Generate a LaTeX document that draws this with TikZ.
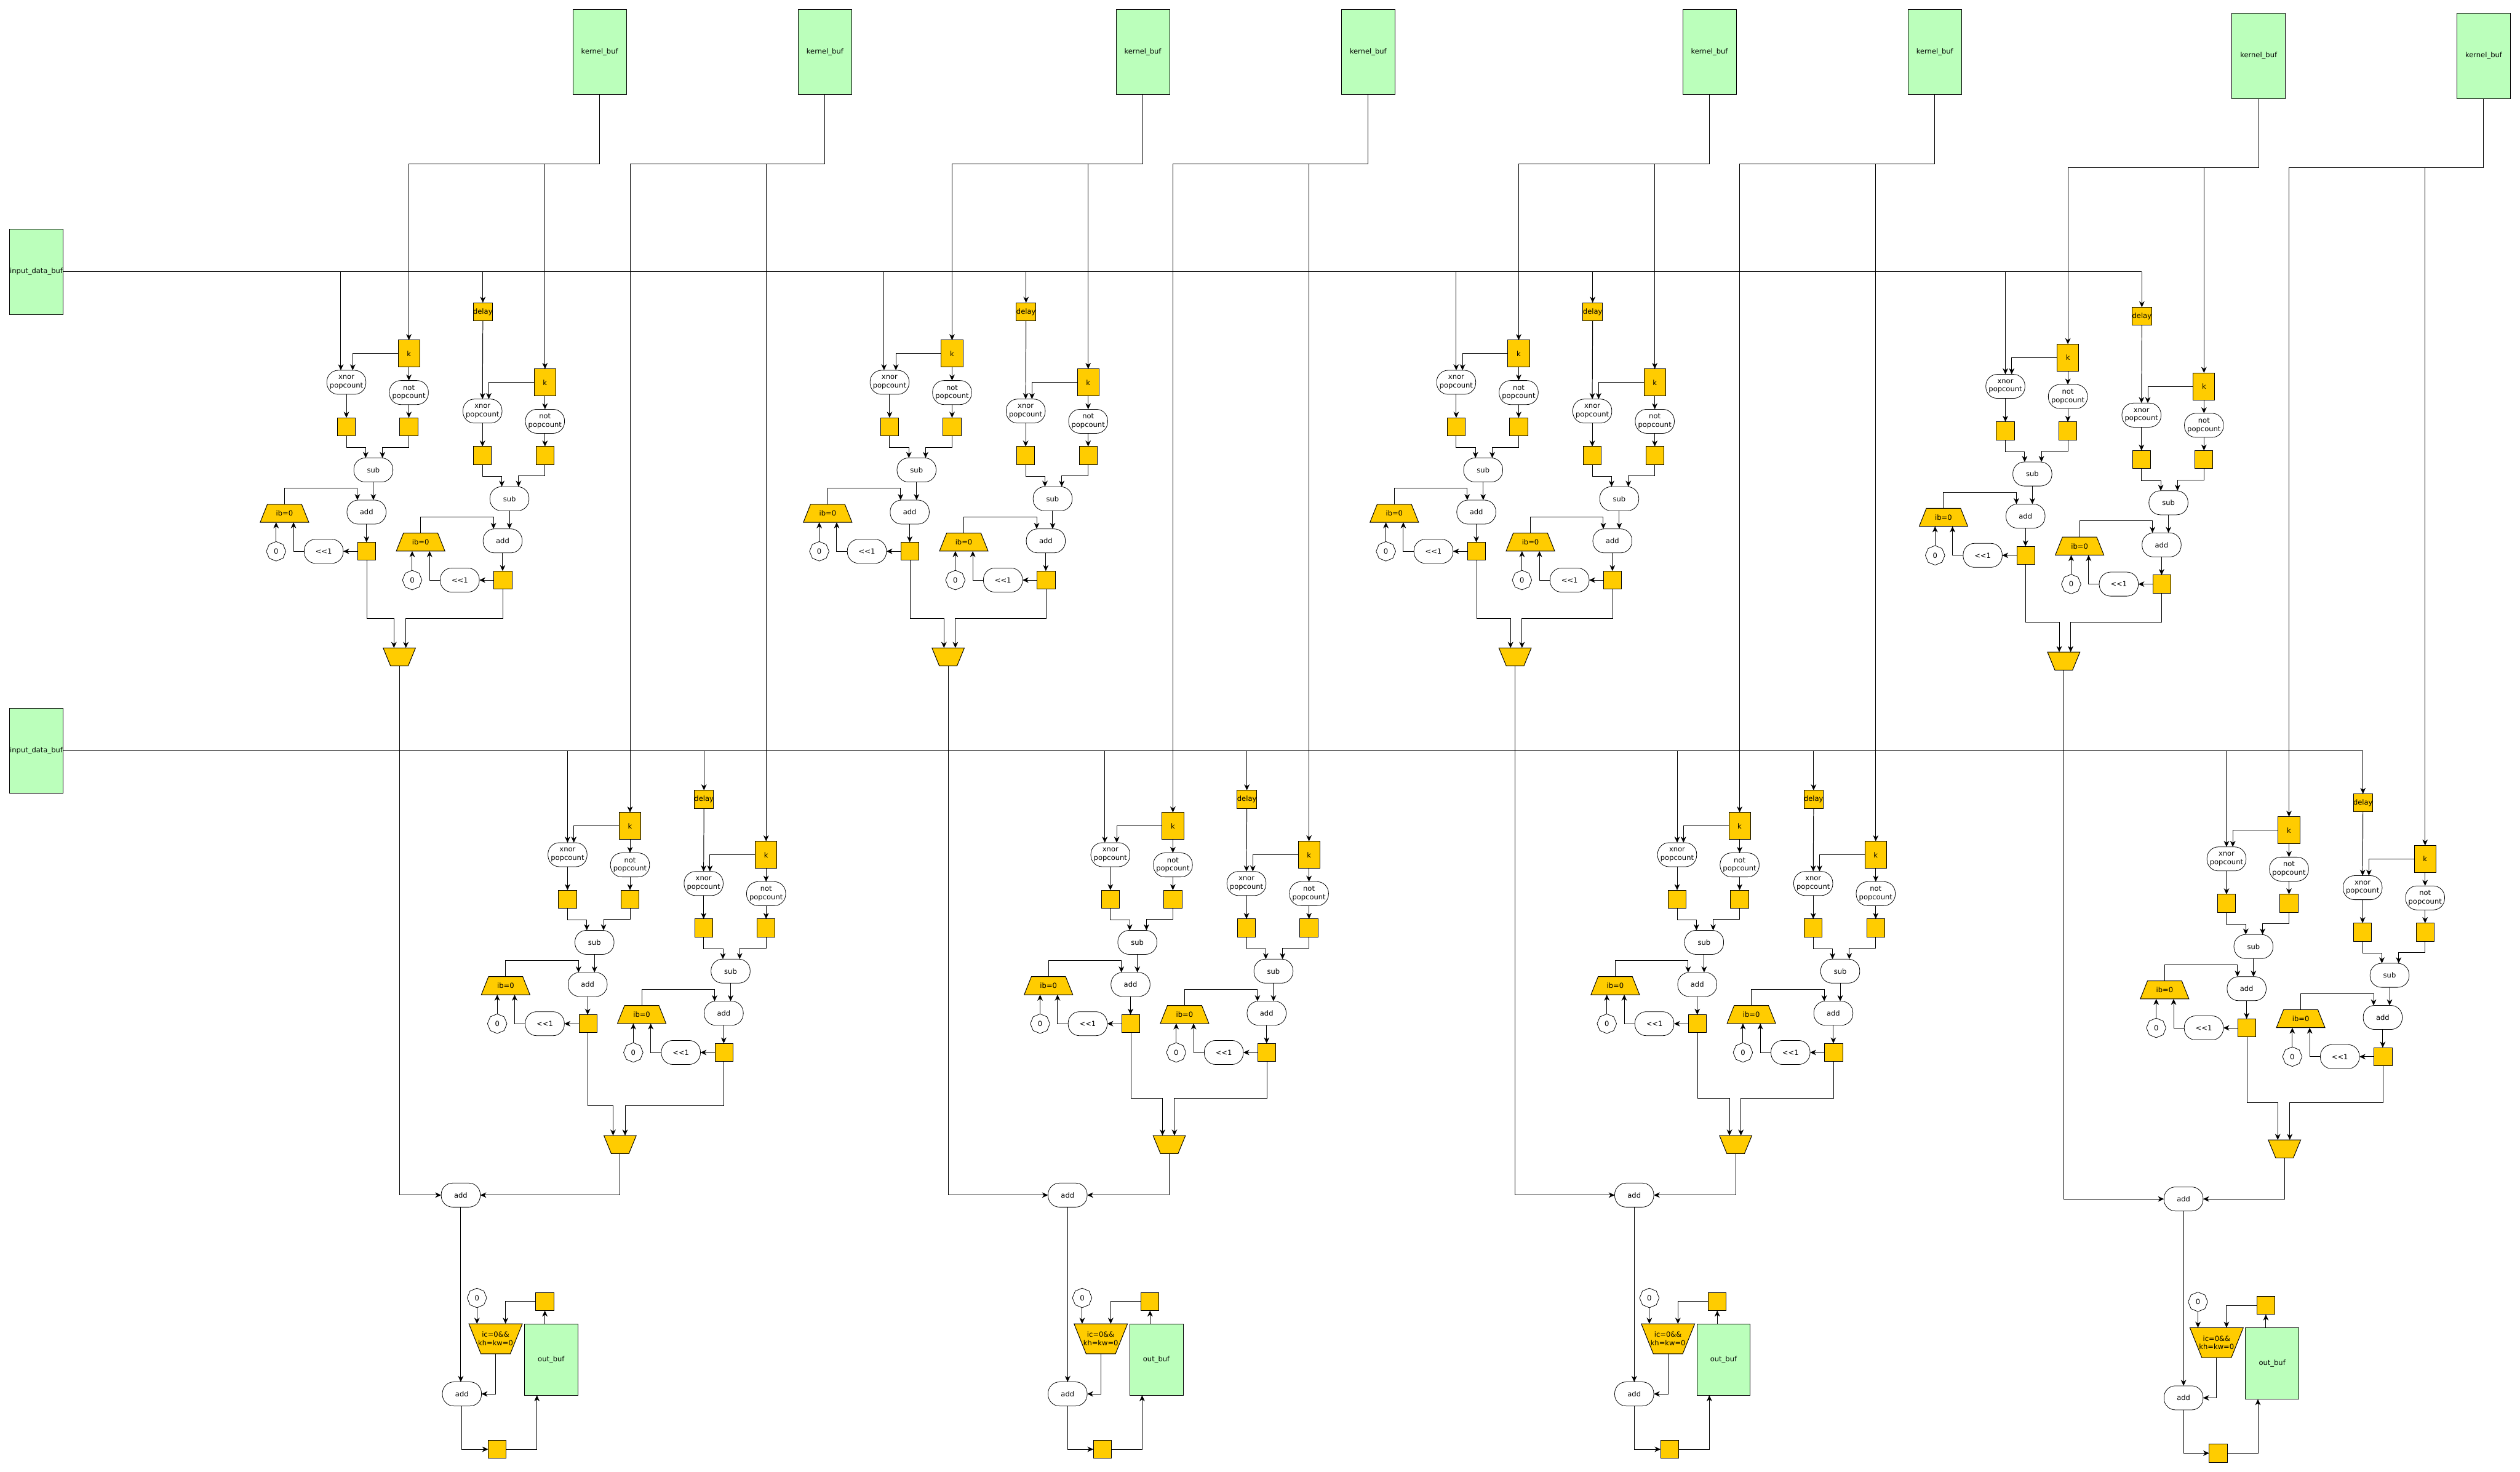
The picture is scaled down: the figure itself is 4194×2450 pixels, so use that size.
\documentclass[tikz,border=0pt]{standalone}
\usepackage{fontspec}
\setmainfont{DejaVu Sans}
\usetikzlibrary{arrows.meta,shapes.geometric}
\definecolor{regcol}{HTML}{FFCC00}
\definecolor{bufcol}{HTML}{BBFFBB}

\begin{document}
\begin{tikzpicture}[x=1pt,y=-1pt,line width=1pt,
  every node/.style={font=\fontsize{11.8}{14}\selectfont,align=center,inner sep=0pt,outer sep=0pt},
  buf/.style ={draw, fill=bufcol, minimum width=89pt, minimum height=142pt},
  reg/.style ={draw, fill=regcol, minimum width=30pt, minimum height=30pt},
  kreg/.style={draw, fill=regcol, minimum width=36pt, minimum height=45pt},
  alu/.style ={draw, fill=white, line width=0.8pt, rounded corners=19pt, minimum width=65pt, minimum height=40pt},
  cst/.style ={draw, fill=white, line width=0.8pt, regular polygon, regular polygon sides=8, shape border rotate=22.5, minimum size=32.5pt},
  sel/.style ={draw, fill=regcol, trapezium, trapezium stretches=true, trapezium angle=57.2, minimum width=81pt, minimum height=30pt},
  mux/.style ={draw, fill=regcol, trapezium, trapezium stretches=true, trapezium angle=65.6, shape border rotate=180, minimum width=54pt, minimum height=30pt},
  muxb/.style={draw, fill=regcol, trapezium, trapezium stretches=true, trapezium angle=66.1, shape border rotate=180, minimum width=89pt, minimum height=50pt},
  wire/.style={-{Stealth[length=10pt,width=9pt,inset=3pt]}}]

  \useasboundingbox (0,0) rectangle (4194,2450);

  % ---------------- input buffers ----------------
  \node[buf] (ibufa) at (60.5,452.5) {input\_data\_buf};
  \node[buf] (ibufb) at (60.5,1249.6) {input\_data\_buf};

  % ---------------- kernel buffers and PE pairs ----------------
  \foreach \n/\kx/\ky/\ax/\ay/\tap/\dly/\mx/\my/\ml/\mr/\bend/\ib in {
    a/998/86.5/680.5/588.7/-9.3/519/664.6/1093.5/-9/10.9/1029.4/ibufa,
    b/1902/86.5/1584.5/588.7/-9.3/519/1578/1093.5/-7/12/1029.4/ibufa,
    c/2845/86.5/2527.5/588.7/0/519/2521.5/1093.5/-7.6/11.5/1029.4/ibufa,
    d/3759/93/3441.5/595.4/0/526.5/3434.6/1100.5/-7.5/11.5/1036/ibufa,
    e/1373/86.5/1048.5/1375/0/1330.6/1032/1905.2/-11.7/8.3/1840.2/ibufb,
    f/2277/86.5/1952/1375/-9.3/1330.6/1946/1905.2/-11.3/8.6/1828.3/ibufb,
    g/3220/86.5/2895.2/1375/0/1330.6/2888.6/1905.2/-10.3/8.8/1828.3/ibufb,
    h/4133.5/93/3809.5/1382/0/1336.5/3802/1912.5/-11.2/8.8/1835.6/ibufb}{

    \node[buf] (kern\n) at (\kx,\ky) {kernel\_buf};
    \node[reg] (dly\n) at (\ax+123.1,\dly) {delay};
    \node[mux] (mux\n) at (\mx,\my) {\phantom{x}};

    \foreach \s/\dx/\dy in {A/0/0,B/226.5/47.9}{
      \node[kreg] (k\s\n)    at (\ax+\dx,\ay+\dy) {k};
      \node[alu]  (xnor\s\n) at (\ax+\dx-104,\ay+\dy+47.7) {xnor\\popcount};
      \node[alu]  (not\s\n)  at (\ax+\dx,\ay+\dy+64.7) {not\\popcount};
      \node[reg]  (rl\s\n)   at (\ax+\dx-104,\ay+\dy+121.7) {};
      \node[reg]  (rr\s\n)   at (\ax+\dx,\ay+\dy+121.7) {};
      \node[alu]  (sub\s\n)  at (\ax+\dx-59.1,\ay+\dy+193.6) {sub};
      \node[alu]  (add\s\n)  at (\ax+\dx-70.5,\ay+\dy+263.7) {add};
      \node[reg]  (rs\s\n)   at (\ax+\dx-70,\ay+\dy+329) {};
      \node[alu]  (shl\s\n)  at (\ax+\dx-141.8,\ay+\dy+329) {<{}<1};
      \node[cst]  (zero\s\n) at (\ax+\dx-221,\ay+\dy+329) {0};
      \node[sel]  (sel\s\n)  at (\ax+\dx-207,\ay+\dy+265.7) {ib=0};

      \draw[wire] (k\s\n.west) -| ([xshift=10.5pt]xnor\s\n.north);
      \draw[wire] (k\s\n.south) -- (not\s\n.north);
      \draw[wire] (xnor\s\n.south) -- (rl\s\n.north);
      \draw[wire] (not\s\n.south) -- (rr\s\n.north);
      \draw[wire] (rl\s\n.south) -- ++(0,19.9) -| ([xshift=-12.8pt]sub\s\n.north);
      \draw[wire] (rr\s\n.south) -- ++(0,19) -| ([xshift=15.1pt]sub\s\n.north);
      \draw[wire] (sub\s\n.south) -- (sub\s\n.south |- add\s\n.north);
      \draw[wire] (add\s\n.south) -- (add\s\n.south |- rs\s\n.north);
      \draw[wire] (rs\s\n.west) -- (shl\s\n.east);
      \draw[wire] (shl\s\n.west) -| ([xshift=15pt]sel\s\n.south);
      \draw[wire] (zero\s\n.north) -- (zero\s\n.north |- sel\s\n.south);
      \draw[wire] (sel\s\n.north) -- ++(0,-26.9) -| ([xshift=-15.2pt]add\s\n.north);
    }

    % kernel bus
    \draw[wire] (kern\n.south) -- ++(0,115.5) coordinate (bus\n) -| (kA\n.north);
    \draw[wire] (bus\n) -| (kB\n.north);

    % taps from the input line
    \coordinate (tap\n) at ([xshift=\tap pt]xnorA\n.north);
    \draw[wire] (\ib.east -| tap\n) -- (tap\n);
    \draw[wire] (\ib.east -| dly\n.north) -- (dly\n.north);
    \draw[wire] (dly\n.south) -- (xnorB\n.north);

    % both PE results into the mux
    \coordinate (bend\n) at (\mx,\bend);
    \coordinate (inl\n) at ([xshift=\ml pt]mux\n.north);
    \coordinate (inr\n) at ([xshift=\mr pt]mux\n.north);
    \draw[wire] (rsA\n.south) -- (rsA\n.south |- bend\n) -| (inl\n);
    \draw[wire] (rsB\n.south) -- (rsB\n.south |- bend\n) -| (inr\n);
  }

  \draw (ibufa.east) -- (ibufa.east -| dlyd.north);
  \draw (ibufb.east) -- (ibufb.east -| dlyh.north);

  % ---------------- output adders and out_buf ----------------
  \foreach \m/\l/\r/\tx/\xa/\xb/\oy in {
    p/a/e/824.8/766.8/768.8/0,
    q/b/f/1832/1776.8/1776.8/0,
    r/c/g/2776/2719.8/2719.8/0,
    s/d/h/3689/3634/3634/6.5}{

    \node[alu] (adda\m) at (\xa,1989.3+\oy) {add};
    \node[alu] (addb\m) at (\xb,2320.3+\oy) {add};
    \node[cst] (zero\m) at (\tx-31,2160.5+\oy) {0};
    \node[muxb] (acc\m) at (\tx,2228.5+\oy) {\phantom{x}};
    \node (acct\m) at (acc\m) {ic=0\&\&\\kh=kw=0};
    \node[reg] (back\m) at (\tx+82,2166.5+\oy) {};
    \node[buf,minimum height=119pt] (out\m) at (\tx+92.5,2263+\oy) {out\_buf};
    \node[reg] (last\m) at (\tx+2.7,2412.4+\oy) {};

    \draw[wire] (mux\l.south) |- (adda\m.west);
    \draw[wire] (mux\r.south) |- (adda\m.east);
    \draw[wire] (adda\m.south) -- (adda\m.south |- addb\m.north);
    \draw[wire] (zero\m.south) -- (zero\m.south |- acc\m.north);
    \draw[wire] (back\m.west) -| ([xshift=16.5pt]acc\m.north);
    \draw[wire] (back\m.south |- out\m.north) -- (back\m.south);
    \draw[wire] (acc\m.south) |- (addb\m.east);
    \draw[wire] (addb\m.south) |- (last\m.west);
    \draw[wire] (last\m.east) -| ([xshift=-23.7pt]out\m.south);
  }
\end{tikzpicture}
\end{document}
